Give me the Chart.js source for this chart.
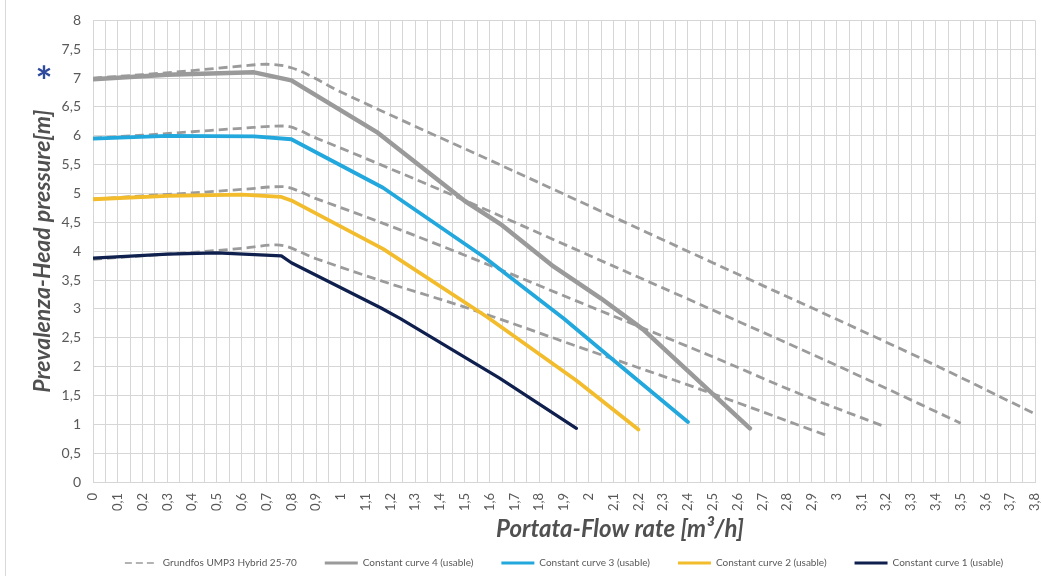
<!DOCTYPE html>
<html>
<head>
<meta charset="utf-8">
<script src="https://cdn.jsdelivr.net/npm/chart.js@4"></script>
<style>
  html, body { margin: 0; padding: 0; background: #fff; }
  #wrap { position: relative; width: 1042px; height: 576px; overflow: hidden; }
  #frame { position: absolute; left: 5px; top: 0; width: 1px; height: 576px; background: #d9d9d9; }
  canvas { position: absolute; left: 0; top: 0; }
</style>
</head>
<body>
<div id="wrap">
  <canvas id="pumpChart" width="1042" height="576"></canvas>
  <div id="frame"></div>
</div>
<script>
// Flow rate [m3/h] / head [m] samples, Grundfos UMP3 Hybrid 25-70 reference curves (dashed)
const grundfos4Flow = [0, 0.2, 0.4, 0.6, 0.7, 0.8, 1.0, 1.2, 1.6, 2.0, 2.5, 3.0, 3.4, 3.8];
const grundfos4Head = [7.0, 7.06, 7.13, 7.21, 7.24, 7.18, 6.76, 6.36, 5.58, 4.79, 3.80, 2.82, 2.02, 1.18];
const grundfos3Flow = [0, 0.2, 0.4, 0.6, 0.77, 0.9, 1.16, 1.5, 2.0, 2.5, 3.0, 3.5];
const grundfos3Head = [5.96, 6.01, 6.07, 6.13, 6.17, 5.96, 5.50, 4.88, 3.93, 2.98, 2.02, 1.02];
const grundfos2Flow = [0, 0.2, 0.4, 0.6, 0.76, 0.9, 1.16, 1.5, 2.0, 2.5, 2.85, 3.2];
const grundfos2Head = [4.90, 4.96, 5.01, 5.07, 5.12, 4.91, 4.50, 3.93, 3.05, 2.17, 1.53, 0.95];
const grundfos1Flow = [0, 0.2, 0.4, 0.6, 0.74, 0.9, 1.16, 1.5, 2.0, 2.5, 2.97];
const grundfos1Head = [3.86, 3.92, 3.98, 4.05, 4.11, 3.87, 3.49, 3.03, 2.28, 1.53, 0.79];

// Constant curves (usable range, solid)
const curve4Flow = [0, 0.3, 0.65, 0.8, 1.15, 1.5, 1.65, 1.85, 2.05, 2.22, 2.65];
const curve4Head = [6.98, 7.06, 7.10, 6.96, 6.05, 4.87, 4.45, 3.76, 3.18, 2.64, 0.93];
const curve3Flow = [0, 0.3, 0.65, 0.8, 1.17, 1.58, 1.9, 2.1, 2.40];
const curve3Head = [5.95, 6.0, 5.99, 5.94, 5.10, 3.89, 2.83, 2.11, 1.04];
const curve2Flow = [0, 0.3, 0.6, 0.76, 0.8, 1.17, 1.59, 1.95, 2.20];
const curve2Head = [4.90, 4.96, 4.98, 4.94, 4.88, 4.04, 2.86, 1.76, 0.91];
const curve1Flow = [0, 0.3, 0.5, 0.76, 0.8, 1.16, 1.24, 1.64, 1.95];
const curve1Head = [3.88, 3.95, 3.97, 3.92, 3.80, 3.02, 2.83, 1.80, 0.93];

const seriesNames = [
  'Grundfos UMP3 Hybrid 25-70',
  'Constant curve 4 (usable)',
  'Constant curve 3 (usable)',
  'Constant curve 2 (usable)',
  'Constant curve 1 (usable)'
];

// Axis tick labels (decimal comma)
const flowTicks = ['0','0,1','0,2','0,3','0,4','0,5','0,6','0,7','0,8','0,9','1','1,1','1,2','1,3','1,4','1,5','1,6','1,7','1,8','1,9','2','2,1','2,2','2,3','2,4','2,5','2,6','2,7','2,8','2,9','3','3,1','3,2','3,3','3,4','3,5','3,6','3,7','3,8'];
const headTicks = ['0','0,5','1','1,5','2','2,5','3','3,5','4','4,5','5','5,5','6','6,5','7','7,5','8'];

const headTitle = 'Prevalenza-Head pressure[m]';
const flowTitle = 'Portata-Flow rate [m³/h]';

const toPoints = (xs, ys) => xs.map((x, i) => ({ x: x, y: ys[i] }));

const dashedStyle = {
  borderColor: '#9b9b9b',
  backgroundColor: '#9b9b9b',
  borderWidth: 2.8,
  borderDash: [9, 5],
  cubicInterpolationMode: 'monotone',
  pointRadius: 0,
  order: 10
};
const solidStyle = (color, width) => ({
  borderColor: color,
  backgroundColor: color,
  borderWidth: width,
  pointRadius: 0,
  tension: 0,
  borderJoinStyle: 'round',
  borderCapStyle: 'round',
  order: 1
});

const datasets = [
  Object.assign({ label: seriesNames[0], data: toPoints(grundfos4Flow, grundfos4Head) }, dashedStyle),
  Object.assign({ label: seriesNames[0], data: toPoints(grundfos3Flow, grundfos3Head) }, dashedStyle),
  Object.assign({ label: seriesNames[0], data: toPoints(grundfos2Flow, grundfos2Head) }, dashedStyle),
  Object.assign({ label: seriesNames[0], data: toPoints(grundfos1Flow, grundfos1Head) }, dashedStyle),
  Object.assign({ label: seriesNames[1], data: toPoints(curve4Flow, curve4Head) }, solidStyle('#9a9a9a', 4.5)),
  Object.assign({ label: seriesNames[2], data: toPoints(curve3Flow, curve3Head) }, solidStyle('#22a8dc', 3.8)),
  Object.assign({ label: seriesNames[3], data: toPoints(curve2Flow, curve2Head) }, solidStyle('#f2bc2c', 3.8)),
  Object.assign({ label: seriesNames[4], data: toPoints(curve1Flow, curve1Head) }, solidStyle('#0f1f4e', 3.2))
];

// Legend entries: line samples keep the dataset's colour and dash pattern
const legendLabels = (chart) => {
  const base = Chart.defaults.plugins.legend.labels.generateLabels(chart);
  return base.map((item) => {
    const ds = chart.data.datasets[item.datasetIndex];
    item.strokeStyle = ds.borderColor;
    item.lineDash = ds.borderDash ? [7, 4] : [];
    item.lineWidth = ds.borderDash ? 1.6 : 3;
    item.lineCap = 'butt';
    return item;
  });
};

// Flow-axis caption and the blue asterisk beside the head-axis caption
const captions = {
  id: 'captions',
  afterDraw(chart) {
    const ctx = chart.ctx;
    ctx.save();
    ctx.fillStyle = '#505050';
    ctx.font = 'italic bold 24px Lato';
    ctx.textAlign = 'center';
    ctx.textBaseline = 'middle';
    ctx.fillText(flowTitle, 620, 529);
    ctx.fillStyle = '#2f4a9c';
    ctx.font = 'bold 40px Lato';
    ctx.textBaseline = 'alphabetic';
    ctx.fillText('*', 44, 96);
    ctx.restore();
  }
};

Chart.defaults.font.family = 'Lato';
Chart.defaults.color = '#595959';

new Chart(document.getElementById('pumpChart'), {
  type: 'line',
  data: { datasets: datasets },
  plugins: [captions],
  options: {
    responsive: false,
    animation: false,
    layout: { padding: { top: 19, right: 7, left: 0, bottom: -2 } },
    plugins: {
      title: { display: false },
      tooltip: { enabled: false },
      legend: {
        position: 'bottom',
        fullSize: false,
        labels: {
          usePointStyle: true,
          pointStyle: 'line',
          pointStyleWidth: 33,
          padding: 28,
          color: '#595959',
          font: { size: 10 },
          generateLabels: legendLabels,
          filter: (item) => item.datasetIndex === 0 || item.datasetIndex >= 4,
          sort: (a, b) => a.datasetIndex - b.datasetIndex
        }
      }
    },
    scales: {
      x: {
        type: 'linear',
        min: 0,
        max: 3.8,
        afterFit: (scale) => {
          scale.height = 48;
          scale.paddingRight = 0;
          scale.paddingLeft = 0;
        },
        grid: { color: '#d6d6d6', lineWidth: 1, drawTicks: false },
        border: { color: '#d6d6d6' },
        ticks: {
          stepSize: 0.05,
          autoSkip: false,
          minRotation: 90,
          maxRotation: 90,
          padding: 11,
          color: '#595959',
          font: { size: 13 },
          callback: (value) => {
            const idx = Math.round(value * 20);
            return idx % 2 === 0 ? flowTicks[idx / 2] : '';
          }
        }
      },
      y: {
        min: 0,
        max: 8,
        afterFit: (scale) => { scale.width = 93; },
        grid: { color: '#d6d6d6', lineWidth: 1, drawTicks: false },
        border: { color: '#d6d6d6' },
        title: {
          display: true,
          text: headTitle,
          color: '#505050',
          font: { size: 23, weight: 'bold', style: 'italic' },
          padding: { top: 29, bottom: 0 }
        },
        ticks: {
          stepSize: 0.5,
          padding: 12,
          color: '#595959',
          font: { size: 14 },
          callback: (value) => headTicks[Math.round(value * 2)]
        }
      }
    }
  }
});
</script>
</body>
</html>
